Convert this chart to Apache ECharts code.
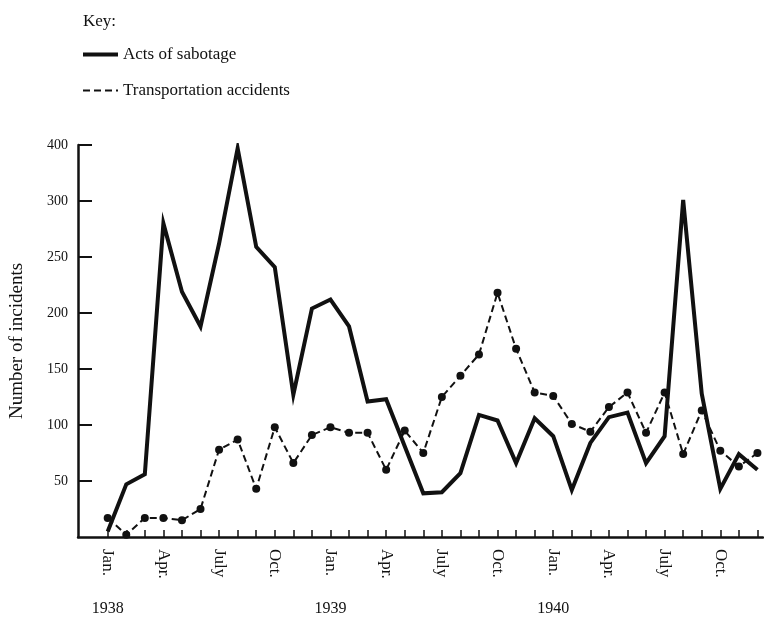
<!DOCTYPE html>
<html>
<head>
<meta charset="utf-8">
<script src="https://cdn.jsdelivr.net/npm/echarts@6/dist/echarts.min.js"></script>
<style>
  html, body { margin: 0; padding: 0; background: #fff; }
  #chart { width: 764px; height: 621px; }
</style>
</head>
<body>
<div id="chart"></div>
<script>
// monthly data, Jan 1938 .. Dec 1940 (index 0..35)
var quarterLabels = ['Jan.', 'Apr.', 'July', 'Oct.'];
var yearLabels = ['1938', '1939', '1940'];
var yTicks = [50, 100, 150, 200, 250, 300, 350];
var yTickText = ['50', '100', '150', '200', '250', '300', '400'];

var sabotage = [
  5, 47, 56, 280, 219, 188, 262, 347, 259, 241, 127, 204,
  212, 188, 121, 123, 81, 39, 40, 57, 109, 104, 66, 106,
  90, 42, 84, 107, 111, 66, 90, 301, 128, 43, 74, 60
];
var accidents = [
  17, 2, 17, 17, 15, 25, 78, 87, 43, 98, 66, 91,
  98, 93, 93, 60, 95, 75, 125, 144, 163, 218, 168, 129,
  126, 101, 94, 116, 129, 93, 129, 74, 113, 77, 63, 75
];

var font = 'Liberation Serif';

function toPoints(arr) {
  return arr.map(function (v, i) { return [i, v]; });
}
var monthTicks = sabotage.map(function (v, i) { return i; });
var quarterTicks = monthTicks.filter(function (i) { return i % 3 === 0; });
var yearTicks = monthTicks.filter(function (i) { return i % 12 === 0; });

var chart = echarts.init(document.getElementById('chart'));
var option = {
  backgroundColor: '#fff',
  animation: false,
  title: {
    text: 'Key:',
    left: 78,
    top: 8,
    textStyle: { fontFamily: font, fontSize: 17, fontWeight: 'normal', color: '#111' }
  },
  legend: {
    orient: 'vertical',
    left: 76,
    top: 41,
    itemWidth: 35,
    itemHeight: 16,
    itemGap: 19,
    textStyle: { fontFamily: font, fontSize: 17, color: '#111' },
    data: [
      { name: 'Acts of sabotage', itemStyle: { opacity: 0 }, lineStyle: { width: 4, color: '#111' } },
      { name: 'Transportation accidents', itemStyle: { opacity: 0 }, lineStyle: { width: 2, type: [7, 4], color: '#111' } }
    ]
  },
  grid: { left: 78, right: 1, top: 145, bottom: 84, containLabel: false, outerBoundsMode: 'none' },
  xAxis: [{
    type: 'value',
    min: -1.6,
    max: 35.3,
    splitLine: { show: false },
    axisLine: { onZero: false, lineStyle: { color: '#111', width: 2.5 } },
    axisTick: { inside: true, length: 7, customValues: monthTicks, lineStyle: { color: '#111', width: 1.5 } },
    axisLabel: {
      customValues: quarterTicks,
      rotate: -90,
      margin: 12,
      fontFamily: font,
      fontSize: 17,
      color: '#111',
      formatter: function (v) { return quarterLabels[(Math.round(v) % 12) / 3]; }
    }
  }, {
    type: 'value',
    position: 'bottom',
    offset: 58,
    min: -1.6,
    max: 35.3,
    splitLine: { show: false },
    axisLine: { show: false },
    axisTick: { show: false },
    axisLabel: {
      customValues: yearTicks,
      margin: 6,
      fontFamily: font,
      fontSize: 16,
      color: '#111',
      formatter: function (v) { return yearLabels[Math.round(v) / 12]; }
    }
  }],
  yAxis: {
    type: 'value',
    min: 0,
    max: 350,
    name: 'Number of incidents',
    nameLocation: 'middle',
    nameGap: 51,
    nameTextStyle: { fontFamily: font, fontSize: 19, color: '#111' },
    splitLine: { show: false },
    axisLine: { onZero: false, lineStyle: { color: '#111', width: 2.5 } },
    axisTick: { inside: true, length: 14, customValues: yTicks, lineStyle: { color: '#111', width: 2 } },
    axisLabel: {
      customValues: yTicks,
      margin: 10,
      fontFamily: font,
      fontSize: 14,
      color: '#111',
      formatter: function (v) { return yTickText[yTicks.indexOf(v)]; }
    }
  },
  series: [{
    name: 'Acts of sabotage',
    type: 'line',
    data: toPoints(sabotage),
    symbol: 'none',
    lineStyle: { color: '#111', width: 4, join: 'miter' },
    itemStyle: { color: '#111' },
    z: 3
  }, {
    name: 'Transportation accidents',
    type: 'line',
    data: toPoints(accidents),
    symbol: 'circle',
    symbolSize: 8,
    lineStyle: { color: '#111', width: 2, type: [7, 4] },
    itemStyle: { color: '#111' },
    z: 2
  }]
};
chart.setOption(option);
</script>
</body>
</html>
